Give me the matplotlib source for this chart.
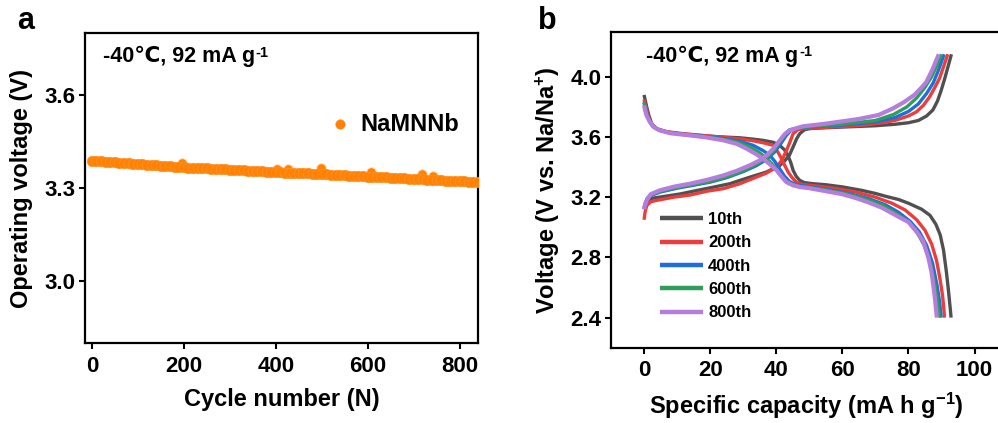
import numpy as np
import matplotlib
matplotlib.use("Agg")
import matplotlib.pyplot as plt

plt.rcParams['font.family'] = ['Liberation Sans', 'DejaVu Sans']
plt.rcParams['font.weight'] = 'bold'
plt.rcParams['axes.labelweight'] = 'bold'
plt.rcParams['mathtext.fontset'] = 'custom'
plt.rcParams['mathtext.rm'] = 'Liberation Sans:bold'
plt.rcParams['mathtext.bf'] = 'Liberation Sans:bold'
plt.rcParams['mathtext.it'] = 'Liberation Sans:bold'
plt.rcParams['mathtext.default'] = 'bf'

# ---------------- Panel a data ----------------
cycles = list(range(0, 841, 10))
op_voltage = [3.388, 3.388, 3.386, 3.385, 3.384, 3.383, 3.382, 3.381, 3.380, 3.378,
              3.377, 3.376, 3.375, 3.374, 3.373, 3.372, 3.371, 3.370, 3.369, 3.368,
              3.367, 3.366, 3.366, 3.365, 3.364, 3.363, 3.362, 3.362, 3.361, 3.360,
              3.359, 3.358, 3.358, 3.357, 3.356, 3.356, 3.355, 3.354, 3.353, 3.353,
              3.352, 3.351, 3.350, 3.350, 3.349, 3.348, 3.347, 3.347, 3.346, 3.345,
              3.344, 3.344, 3.343, 3.342, 3.341, 3.341, 3.340, 3.339, 3.338, 3.338,
              3.337, 3.336, 3.335, 3.335, 3.334, 3.333, 3.332, 3.332, 3.331, 3.330,
              3.329, 3.329, 3.328, 3.327, 3.326, 3.326, 3.325, 3.324, 3.323, 3.323,
              3.322, 3.321, 3.320, 3.320, 3.319]
outlier_cycles = [196, 402, 426, 498, 607, 719, 742]
outlier_voltage = [3.382, 3.362, 3.360, 3.365, 3.353, 3.344, 3.340]

# ---------------- Panel b data ----------------
cycle_labels = ['10th', '200th', '400th', '600th', '800th']
cycle_colors = ['#505050', '#EE3B3B', '#1E6FD9', '#2E9E5B', '#B57EDC']

chg_10_cap = [0, 0.5, 1.5, 3, 6, 11, 16, 21, 26, 29, 33, 37, 39.1, 41, 42.5, 44, 45.1, 46.2, 47.1,
              48.5, 50.2, 55, 62, 70, 76, 80, 83, 85.5, 87.4, 88.8, 89.9, 91, 92, 93]
chg_10_v = [3.13, 3.165, 3.185, 3.195, 3.205, 3.222, 3.245, 3.267, 3.29, 3.312, 3.34, 3.367, 3.39,
            3.41, 3.44, 3.48, 3.534, 3.59, 3.622, 3.648, 3.656, 3.662, 3.668, 3.675, 3.685, 3.695,
            3.71, 3.74, 3.78, 3.84, 3.91, 3.99, 4.07, 4.15]
dis_10_cap = [0, 0.3, 0.8, 1.5, 2.3, 3.5, 4.8, 8, 10.9, 16, 20.9, 26, 29, 33, 36, 39.1, 41, 42.5,
              43.5, 44.4, 45.1, 46, 47.1, 48.5, 51.1, 55, 60.2, 66, 70, 73.3, 77, 80, 84, 86.5,
              88.3, 89.6, 90.6, 91.5, 92.1, 92.6, 92.9]
dis_10_v = [3.88, 3.85, 3.80, 3.74, 3.69, 3.66, 3.644, 3.63, 3.622, 3.612, 3.604, 3.598, 3.595,
            3.586, 3.578, 3.565, 3.545, 3.515, 3.48, 3.43, 3.379, 3.34, 3.312, 3.297, 3.29, 3.283,
            3.268, 3.245, 3.225, 3.205, 3.185, 3.16, 3.12, 3.08, 3.02, 2.95, 2.85, 2.70, 2.58,
            2.47, 2.40]

chg_200_cap = [0, 0.3, 0.8, 2, 4, 8.9, 14, 19, 24, 29, 34, 37, 40.1, 41.8, 43.1, 44.2, 45.1, 46.5,
               48.1, 53, 60, 66, 72, 76, 80, 82.4, 84.5, 86.4, 88, 89.4, 90.5, 91.9]
chg_200_v = [3.05, 3.10, 3.144, 3.17, 3.18, 3.20, 3.215, 3.24, 3.257, 3.29, 3.334, 3.36, 3.40,
             3.45, 3.511, 3.57, 3.622, 3.648, 3.656, 3.662, 3.67, 3.678, 3.695, 3.711, 3.74,
             3.767, 3.81, 3.867, 3.93, 3.99, 4.06, 4.15]
dis_200_cap = [0, 0.3, 0.8, 1.5, 2.5, 4, 7, 12, 18, 24, 29, 33, 36, 39.1, 40.5, 41.6, 42.6, 43.6,
               44.8, 46.1, 48, 52, 58, 64, 70, 75, 79, 82.5, 85, 87, 88.5, 89.6, 90.3, 90.7, 90.9]
dis_200_v = [3.85, 3.82, 3.78, 3.72, 3.68, 3.655, 3.635, 3.622, 3.61, 3.598, 3.588, 3.575, 3.562,
             3.545, 3.50, 3.456, 3.41, 3.367, 3.33, 3.30, 3.285, 3.275, 3.258, 3.235, 3.20, 3.16,
             3.115, 3.05, 2.98, 2.89, 2.78, 2.65, 2.55, 2.46, 2.40]

chg_400_cap = [0, 0.4, 1, 2.5, 5, 10, 15, 20, 25, 30, 34, 37, 39.5, 41.5, 43, 44.5, 46, 50, 60,
               70, 76, 80, 83, 85.5, 87.5, 89, 90.8]
chg_400_v = [3.12, 3.16, 3.19, 3.215, 3.235, 3.26, 3.28, 3.30, 3.33, 3.37, 3.41, 3.45, 3.50, 3.56,
             3.61, 3.645, 3.655, 3.668, 3.68, 3.70, 3.73, 3.77, 3.82, 3.89, 3.96, 4.04, 4.15]
dis_400_cap = [0, 0.3, 0.8, 1.5, 2.5, 4, 7, 12, 18, 24, 29, 33, 36, 38, 39.5, 41, 42.5, 44, 46,
               50, 56, 62, 68, 73, 77, 80.5, 83.3, 85.5, 87.3, 88.6, 89.4, 89.9]
dis_400_v = [3.83, 3.80, 3.76, 3.71, 3.675, 3.652, 3.632, 3.618, 3.605, 3.59, 3.572, 3.545, 3.51,
             3.48, 3.44, 3.39, 3.34, 3.305, 3.283, 3.27, 3.25, 3.225, 3.19, 3.15, 3.10, 3.04,
             2.97, 2.88, 2.76, 2.62, 2.51, 2.40]

chg_600_cap = [0, 0.4, 1, 2.5, 5, 10, 15, 20, 25, 30, 34, 37, 39.3, 41.2, 42.7, 44, 45.5, 50, 60,
               70, 75.5, 79.5, 82.5, 85, 87, 88.5, 90.0]
chg_600_v = [3.12, 3.16, 3.195, 3.22, 3.24, 3.265, 3.285, 3.305, 3.335, 3.375, 3.42, 3.46, 3.51,
             3.57, 3.62, 3.648, 3.655, 3.67, 3.685, 3.71, 3.75, 3.80, 3.86, 3.93, 4.00, 4.07, 4.15]
dis_600_cap = [0, 0.3, 0.8, 1.6, 2.7, 4.3, 7.5, 13, 19, 24, 28.5, 32, 35, 37.3, 39.2, 40.8, 42.5,
               44.5, 47, 51, 56, 62, 67.5, 72.5, 76.5, 80, 82.8, 85, 86.8, 88.1, 88.9, 89.4]
dis_600_v = [3.83, 3.80, 3.755, 3.705, 3.67, 3.648, 3.628, 3.613, 3.60, 3.585, 3.565, 3.535, 3.495,
             3.455, 3.41, 3.36, 3.315, 3.29, 3.272, 3.262, 3.245, 3.22, 3.185, 3.145, 3.09, 3.035,
             2.96, 2.87, 2.75, 2.61, 2.50, 2.40]

chg_800_cap = [0, 0.3, 0.8, 2, 4.8, 9, 13.9, 19, 24, 28, 32, 35, 37.1, 39, 41.1, 42.6, 44.1, 48,
               55, 65, 71, 75.3, 78.5, 81.8, 84, 85.4, 87.4, 88.4, 89.2]
chg_800_v = [3.12, 3.15, 3.179, 3.22, 3.246, 3.27, 3.29, 3.315, 3.345, 3.375, 3.412, 3.445, 3.478,
             3.52, 3.578, 3.62, 3.645, 3.671, 3.689, 3.72, 3.747, 3.79, 3.83, 3.88, 3.93, 3.965,
             4.055, 4.11, 4.15]
dis_800_cap = [0, 0.3, 0.8, 1.8, 3, 4.8, 8, 13.9, 19, 24, 28, 31, 34, 36, 38, 40.1, 41.5, 43.1,
               45.1, 47.1, 50, 55, 60, 64, 68, 72, 77, 80, 82.5, 84.4, 86, 87, 87.9, 88.6]
dis_800_v = [3.81, 3.78, 3.74, 3.70, 3.665, 3.644, 3.625, 3.611, 3.597, 3.578, 3.555, 3.523, 3.485,
             3.456, 3.42, 3.379, 3.34, 3.30, 3.279, 3.268, 3.26, 3.24, 3.22, 3.195, 3.165, 3.13,
             3.07, 3.035, 2.97, 2.91, 2.80, 2.70, 2.55, 2.40]

charge_caps = [chg_10_cap, chg_200_cap, chg_400_cap, chg_600_cap, chg_800_cap]
charge_vs = [chg_10_v, chg_200_v, chg_400_v, chg_600_v, chg_800_v]
dis_caps = [dis_10_cap, dis_200_cap, dis_400_cap, dis_600_cap, dis_800_cap]
dis_vs = [dis_10_v, dis_200_v, dis_400_v, dis_600_v, dis_800_v]

condition_text = '-40\u2103, 92 mA g'
condition_sup = '-1'

# ---------------- Figure ----------------
fig = plt.figure(figsize=(9.98, 4.23), dpi=100)
axa = fig.add_axes([85/998, 1-343/423, (478-85)/998, (343-33)/423])
axb = fig.add_axes([611/998, 1-347.7/423, 1.003-611/998, (347.7-31.7)/423])


def condition_label(ax, x, y):
    t = ax.text(x, y, condition_text, transform=ax.transAxes, fontsize=15.5,
                fontweight='bold', va='baseline', ha='left',
                family=['Liberation Sans', 'DejaVu Sans'])
    ax.annotate(condition_sup, xy=(1, 0), xycoords=t, xytext=(0.5, 7.5),
                textcoords='offset points', fontsize=10.5, fontweight='bold',
                va='baseline', ha='left')


orange = '#FF8205'
axa.scatter(cycles, op_voltage, s=60, color=orange, edgecolors='#FF9A3A', linewidths=0.3,
            zorder=3, label='NaMNNb')
axa.scatter(outlier_cycles, outlier_voltage, s=50, color=orange, edgecolors='#FFE2C4',
            linewidths=0.8, zorder=2)
axa.set_xlim(-15, 840)
axa.set_ylim(2.8, 3.8)
axa.set_xticks([0, 200, 400, 600, 800])
axa.set_yticks([3.0, 3.3, 3.6])
axa.set_xlabel('Cycle number (N)', fontsize=17, labelpad=8)
axa.set_ylabel('Operating voltage (V)', fontsize=17, labelpad=8)
condition_label(axa, 0.045, 0.905)
leg = axa.legend(loc='center left', bbox_to_anchor=(0.589, 0.706), frameon=False,
                 fontsize=17, handlelength=1.0, handletextpad=0.35, borderpad=0,
                 scatterpoints=1, markerscale=0.9)

for i in range(5):
    axb.plot(charge_caps[i], charge_vs[i], color=cycle_colors[i],
             lw=2.4 if i < 4 else 3.0, solid_capstyle='butt', zorder=2 + i)
    axb.plot(dis_caps[i], dis_vs[i], color=cycle_colors[i],
             lw=2.4 if i < 4 else 3.0, solid_capstyle='butt', zorder=2 + i,
             label=cycle_labels[i])
axb.set_xlim(-10, 108)
axb.set_ylim(2.2, 4.3)
axb.set_xticks([0, 20, 40, 60, 80, 100])
axb.set_yticks([2.4, 2.8, 3.2, 3.6, 4.0])
axb.set_yticklabels(['2.4', '2.8', '3.2', '3.6', '4.0'])
axb.set_xlabel('Specific capacity (mA h g$^{-1}$)', fontsize=17, labelpad=7)
axb.set_ylabel('Voltage (V vs. Na/Na$^{+}$)', fontsize=17, labelpad=6)
condition_label(axb, 0.09, 0.905)
legb = axb.legend(loc='lower left', bbox_to_anchor=(0.104, 0.060), frameon=False,
                  fontsize=12, handlelength=2.6, handletextpad=0.3, labelspacing=0.5,
                  borderpad=0)
for h in legb.get_lines():
    h.set_linewidth(3.2)

for ax in (axa, axb):
    for sp in ax.spines.values():
        sp.set_linewidth(1.6)
    ax.tick_params(direction='out', length=4, width=1.5, labelsize=16, pad=5)
    ax.tick_params(axis='y', pad=3)
    for lab in ax.get_xticklabels() + ax.get_yticklabels():
        lab.set_fontweight('bold')

fig.text(17/998, 1-29/423, 'a', fontsize=22, fontweight='bold', va='baseline', ha='left')
fig.text(538/998, 1-29/423, 'b', fontsize=22, fontweight='bold', va='baseline', ha='left')

fig.savefig('out.png', dpi=100)
